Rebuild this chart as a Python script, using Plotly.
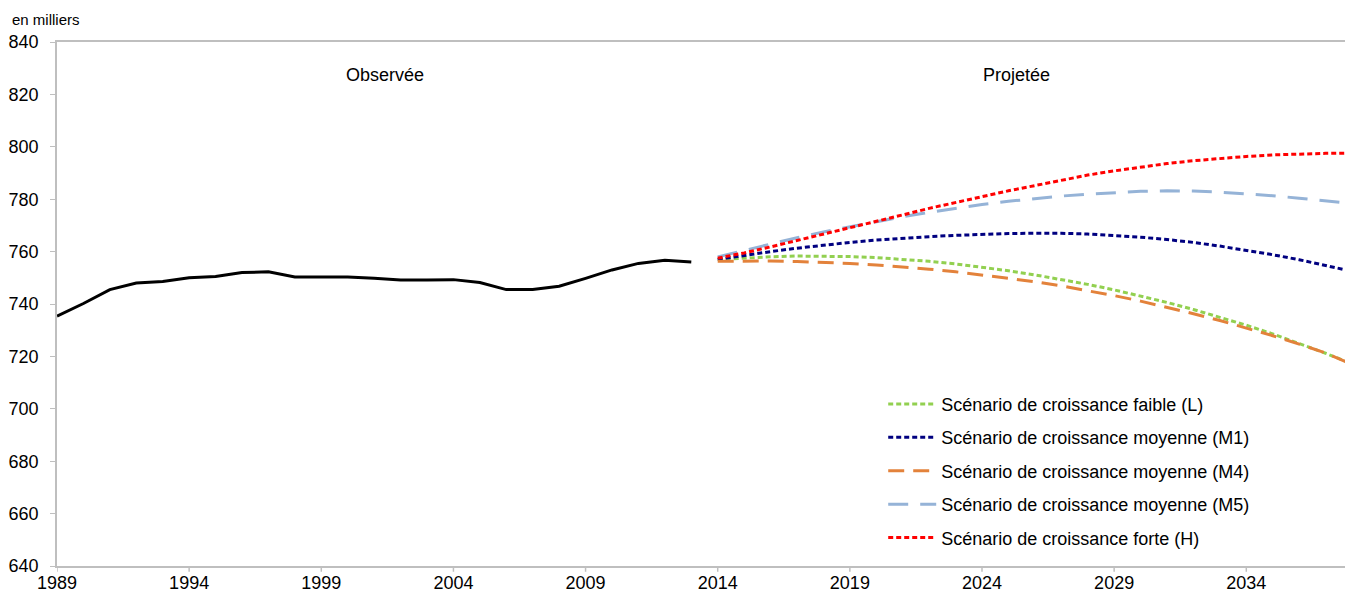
import plotly.graph_objects as go

obs_years = list(range(1989, 2014))
obs_values = [735.4, 740.2, 745.5, 748.0, 748.6, 750.0, 750.5, 752.0, 752.3, 750.3,
              750.3, 750.3, 749.8, 749.2, 749.2, 749.3, 748.2, 745.5, 745.5, 746.8,
              749.8, 753.0, 755.5, 756.7, 756.0]

proj_years = list(range(2014, 2039))
L = [757.0, 757.6, 758.0, 758.3, 758.3, 758.1, 757.7, 757.1, 756.3, 755.3, 754.1, 752.7, 751.1,
     749.4, 747.5, 745.4, 743.1, 740.6, 737.9, 735.0, 731.9, 728.6, 725.0, 721.2, 717.2]
M1 = [757.0, 758.6, 760.0, 761.3, 762.5, 763.5, 764.4, 765.1, 765.7, 766.2, 766.6, 766.9, 767.0,
      767.0, 766.7, 766.2, 765.5, 764.6, 763.5, 762.1, 760.5, 758.8, 756.9, 754.8, 752.5]
M4 = [756.3, 756.4, 756.4, 756.2, 755.9, 755.5, 754.9, 754.2, 753.3, 752.3, 751.1, 749.9, 748.5,
      746.9, 745.1, 743.2, 741.1, 738.8, 736.3, 733.7, 730.9, 727.9, 724.7, 721.3, 717.0]
M5 = [758.0, 760.5, 763.0, 765.3, 767.5, 769.5, 771.5, 773.3, 775.0, 776.6, 778.0, 779.2, 780.3,
      781.2, 781.9, 782.5, 783.0, 783.2, 783.1, 782.7, 782.1, 781.3, 780.4, 779.4, 778.4]
H = [757.5, 759.5, 761.8, 764.2, 766.6, 769.0, 771.5, 774.0, 776.5, 778.8, 781.0, 783.2, 785.2,
     787.2, 789.2, 790.8, 792.3, 793.6, 794.7, 795.6, 796.3, 796.9, 797.3, 797.5, 797.6]

names = ["Scénario de croissance faible (L)", "Scénario de croissance moyenne (M1)",
         "Scénario de croissance moyenne (M4)", "Scénario de croissance moyenne (M5)",
         "Scénario de croissance forte (H)"]
series = [L, M1, M4, M5, H]
colors = ["#92D050", "#000080", "#E3823B", "#95B3D7", "#FF0000"]
dashes = ["5px,3px", "5px,3px", "16px,9px", "20px,12px", "5px,3px"]

x_ticks = list(range(1989, 2035, 5))
y_ticks = list(range(640, 841, 20))

fig = go.Figure()
fig.add_trace(go.Scatter(x=obs_years, y=obs_values, mode="lines",
                         line=dict(color="#000000", width=3), showlegend=False))
for i, (nm, s, c, d) in enumerate(zip(names, series, colors, dashes)):
    fig.add_trace(go.Scatter(x=proj_years, y=s, mode="lines", name=nm,
                             legendgroup=f"g{i}",
                             line=dict(color=c, width=3, dash=d)))

fig.add_annotation(x=2001.4, y=827.5, text="Observée", showarrow=False,
                   font=dict(size=18, color="#000000"))
fig.add_annotation(x=2025.3, y=827.5, text="Projetée", showarrow=False,
                   font=dict(size=18, color="#000000"))
fig.add_annotation(x=0, y=1, xref="paper", yref="paper", xshift=-47, yshift=12,
                   xanchor="left", yanchor="bottom",
                   text="en milliers", showarrow=False, font=dict(size=15, color="#000000"))

# small tick marks below the x axis
for t in x_ticks:
    fig.add_shape(type="line", xref="x", yref="paper", x0=t, x1=t, y0=0, y1=-0.011,
                  line=dict(color="#BFBFBF", width=1.5))

fig.update_layout(
    width=1345, height=586,
    margin=dict(l=49, r=1, t=34, b=28, autoexpand=False),
    paper_bgcolor="white", plot_bgcolor="white",
    font=dict(family="Liberation Sans, Arial, sans-serif", size=18, color="#000000"),
    legend=dict(x=0.638, y=0.344, xanchor="left", yanchor="top",
                bgcolor="rgba(255,255,255,0)", font=dict(size=18),
                tracegroupgap=7, itemwidth=48),
    xaxis=dict(range=[1989, 2038], tickmode="array", tickvals=x_ticks,
               ticks="", automargin=False,
               showgrid=False, zeroline=False, showline=True, linecolor="#BFBFBF",
               linewidth=1.5, mirror=True),
    yaxis=dict(range=[640, 840], tickmode="array", tickvals=y_ticks,
               ticks="outside", ticklen=5, tickcolor="#BFBFBF", automargin=False,
               ticklabelstandoff=8,
               showgrid=False, zeroline=False, showline=True, linecolor="#BFBFBF",
               linewidth=1.5, mirror=True),
)

fig.write_html("out.html")
